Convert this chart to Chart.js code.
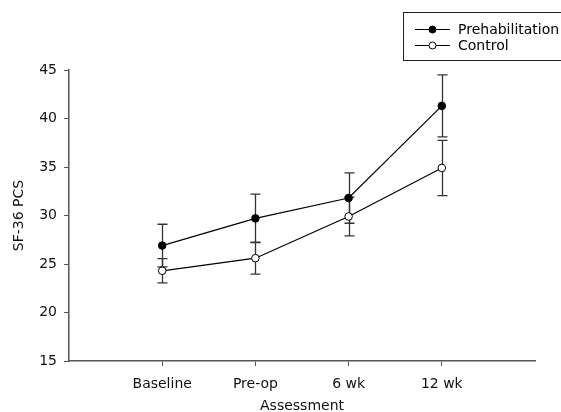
<!DOCTYPE html>
<html>
<head>
<meta charset="utf-8">
<script src="https://cdn.jsdelivr.net/npm/chart.js@4/dist/chart.umd.min.js"></script>
<style>
  html, body { margin: 0; padding: 0; background: #fff; }
  #wrap { width: 561px; height: 412px; }
</style>
</head>
<body>
<div id="wrap"><canvas id="chart" width="561" height="412"></canvas></div>
<script>
// data
const categories = ["Baseline", "Pre-op", "6 wk", "12 wk"];
const prehabMean = [26.9, 29.7, 31.8, 41.3];
const prehabErr = [2.2, 2.5, 2.6, 3.2];
const controlMean = [24.3, 25.6, 29.9, 34.9];
const controlErr = [1.25, 1.65, 2.0, 2.85];
const yTicks = [15, 20, 25, 30, 35, 40, 45];

const FONT = "'DejaVu Sans', sans-serif";

const toPoints = (vals) => vals.map((v, i) => ({ x: i + 1, y: v }));

// vertical error bars with caps, drawn under the markers
const errorBars = {
    id: "errorBars",
    beforeDatasetsDraw(chart) {
        const { ctx, scales: { x, y } } = chart;
        const sets = [[prehabMean, prehabErr], [controlMean, controlErr]];
        ctx.save();
        ctx.strokeStyle = "#333";
        ctx.lineWidth = 1.3;
        sets.forEach(([m, e]) => {
            m.forEach((v, i) => {
                const px = Math.round(x.getPixelForValue(i + 1)) + 0.5;
                const top = y.getPixelForValue(v + e[i]);
                const bot = y.getPixelForValue(v - e[i]);
                ctx.beginPath();
                ctx.moveTo(px, top); ctx.lineTo(px, bot);
                ctx.moveTo(px - 5, top); ctx.lineTo(px + 5, top);
                ctx.moveTo(px - 5, bot); ctx.lineTo(px + 5, bot);
                ctx.stroke();
            });
        });
        ctx.restore();
    }
};

// boxed legend in the top right corner
const boxLegend = {
    id: "boxLegend",
    afterDraw(chart) {
        const { ctx } = chart;
        ctx.save();
        ctx.strokeStyle = "#222";
        ctx.lineWidth = 1;
        ctx.strokeRect(403.5, 12.5, 170, 48);
        const rows = [
            { label: "Prehabilitation", y: 29, fill: "#000" },
            { label: "Control", y: 45, fill: "#fff" }
        ];
        ctx.font = "14px " + FONT;
        ctx.textBaseline = "middle";
        rows.forEach(r => {
            ctx.beginPath();
            ctx.strokeStyle = "#000";
            ctx.moveTo(415, r.y + 0.5); ctx.lineTo(450, r.y + 0.5);
            ctx.stroke();
            ctx.beginPath();
            ctx.arc(432.5, r.y + 0.5, 3.5, 0, Math.PI * 2);
            ctx.fillStyle = r.fill;
            ctx.fill();
            ctx.stroke();
            ctx.fillStyle = "#000";
            ctx.fillText(r.label, 458, r.y + 1);
        });
        ctx.restore();
    }
};

const ctx = document.getElementById("chart").getContext("2d");
new Chart(ctx, {
    type: "line",
    data: {
        datasets: [
            {
                label: "Prehabilitation",
                data: toPoints(prehabMean),
                borderColor: "#000",
                borderWidth: 1.2,
                pointBackgroundColor: "#000",
                pointBorderColor: "#000",
                pointRadius: 3.8,
                pointBorderWidth: 1,
                tension: 0
            },
            {
                label: "Control",
                data: toPoints(controlMean),
                borderColor: "#000",
                borderWidth: 1.2,
                pointBackgroundColor: "#fff",
                pointBorderColor: "#000",
                pointRadius: 3.8,
                pointBorderWidth: 1,
                tension: 0
            }
        ]
    },
    options: {
        responsive: false,
        animation: false,
        layout: { padding: { top: 70, right: 26, left: 0, bottom: 0 } },
        plugins: { legend: { display: false }, tooltip: { enabled: false } },
        scales: {
            x: {
                type: "linear",
                min: 0,
                max: 5,
                afterBuildTicks: (s) => { s.ticks = categories.map((c, i) => ({ value: i + 1 })); },
                afterFit: (s) => { s.height = 51; },
                ticks: {
                    autoSkip: false,
                    maxRotation: 0,
                    padding: 10,
                    color: "#111",
                    font: { family: FONT, size: 14 },
                    callback: (v) => categories[v - 1] || ""
                },
                grid: { drawOnChartArea: false, drawTicks: true, tickLength: 5, color: "#555" },
                border: { display: true, color: "#555", width: 1.5 },
                title: { display: true, text: "Assessment", color: "#111", font: { family: FONT, size: 14 }, padding: { top: 0, bottom: -3 } }
            },
            y: {
                min: 15,
                max: 45,
                afterBuildTicks: (s) => { s.ticks = yTicks.map(v => ({ value: v })); },
                afterFit: (s) => { s.width = 69; },
                ticks: {
                    padding: 7,
                    color: "#111",
                    font: { family: FONT, size: 14 }
                },
                grid: { drawOnChartArea: false, drawTicks: true, tickLength: 5, color: "#555" },
                border: { display: true, color: "#555", width: 1.5 },
                title: { display: true, text: "SF-36 PCS", color: "#111", font: { family: FONT, size: 14 }, padding: { top: 11, bottom: 0 } }
            }
        }
    },
    plugins: [errorBars, boxLegend]
});
</script>
</body>
</html>
